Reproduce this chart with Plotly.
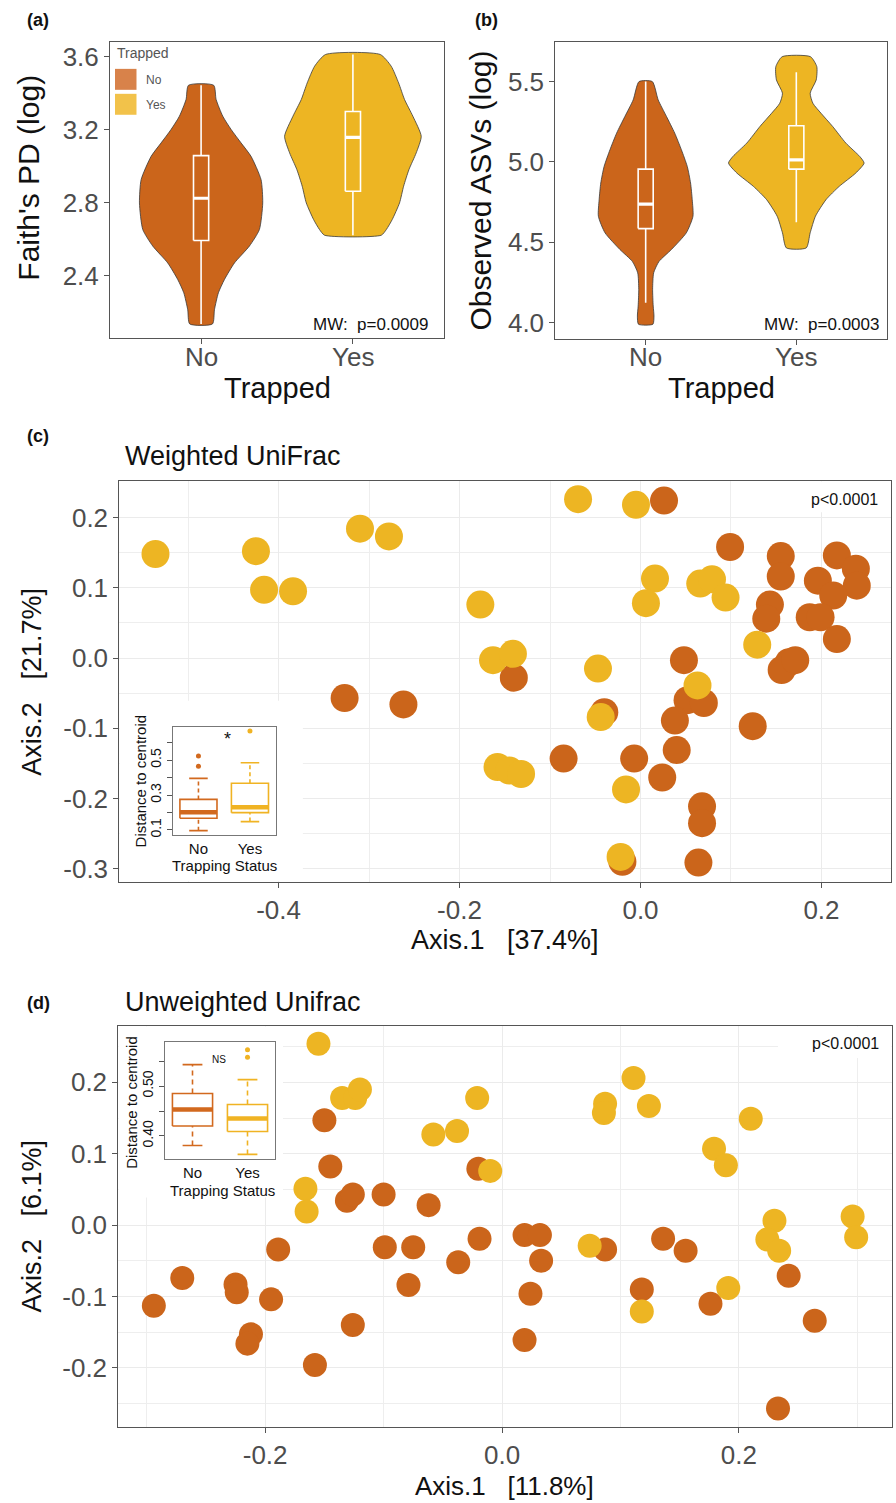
import plotly.graph_objects as go

W, H = 896, 1503
DARK = "#CB651B"
GOLD = "#EDB523"
BOX_DARK = "#D2691E"
BOX_GOLD = "#F0B323"
FONT = "Liberation Sans, Arial, sans-serif"

# ---------------- data ----------------
groups = ["No", "Yes"]

# (a) Faith's PD violin profiles (value, half-width in category units)
faith_no_y = [3.444, 3.366, 3.274, 3.201, 3.128, 3.054, 2.926, 2.798, 2.652, 2.561, 2.469, 2.378, 2.305, 2.212, 2.134]
faith_no_w = [0.083, 0.099, 0.143, 0.198, 0.263, 0.329, 0.395, 0.406, 0.384, 0.318, 0.220, 0.154, 0.114, 0.088, 0.075]
faith_yes_y = [3.613, 3.549, 3.457, 3.366, 3.274, 3.164, 3.073, 2.981, 2.890, 2.798, 2.707, 2.652, 2.621]
faith_yes_w = [0.180, 0.252, 0.301, 0.340, 0.395, 0.450, 0.417, 0.369, 0.334, 0.307, 0.259, 0.220, 0.187]
faith_stats = {  # q1, median, q3, low, high
    "No": [2.592, 2.824, 3.058, 2.134, 3.444],
    "Yes": [2.862, 3.158, 3.300, 2.621, 3.613],
}

# (b) Observed ASVs violin profiles
asv_no_y = [5.500, 5.386, 5.283, 5.179, 5.076, 4.972, 4.869, 4.765, 4.662, 4.559, 4.455, 4.380, 4.310, 4.207, 4.103, 4.041, 3.990]
asv_no_w = [0.044, 0.083, 0.138, 0.193, 0.237, 0.276, 0.298, 0.309, 0.314, 0.270, 0.171, 0.088, 0.053, 0.046, 0.050, 0.055, 0.048]
asv_yes_y = [5.655, 5.593, 5.510, 5.428, 5.365, 5.303, 5.221, 5.117, 5.034, 4.993, 4.931, 4.848, 4.765, 4.662, 4.559, 4.465]
asv_yes_w = [0.094, 0.136, 0.132, 0.092, 0.110, 0.164, 0.241, 0.329, 0.421, 0.450, 0.395, 0.285, 0.197, 0.127, 0.092, 0.066]
asv_stats = {
    "No": [4.585, 4.738, 4.955, 4.123, 5.500],
    "Yes": [4.955, 5.013, 5.225, 4.624, 5.558],
}

# (c) Weighted UniFrac PCoA
wu_yes_x = [-0.536, -0.425, -0.416, -0.384, -0.310, -0.278, -0.177, -0.163, -0.141, -0.069, -0.005, 0.016, 0.006,
            0.066, 0.079, 0.094, 0.129, -0.047, 0.063, -0.044, -0.158, -0.145, -0.132, -0.016, -0.022]
wu_yes_y = [0.148, 0.152, 0.097, 0.095, 0.184, 0.173, 0.076, -0.003, 0.006, 0.226, 0.218, 0.113, 0.078,
            0.106, 0.112, 0.086, 0.019, -0.015, -0.039, -0.084, -0.155, -0.160, -0.165, -0.187, -0.283]
wu_no_x = [-0.327, -0.262, -0.140, 0.026, 0.099, 0.155, 0.155, 0.217, 0.238, 0.239, 0.196, 0.213, 0.187, 0.199,
           0.217, 0.143, 0.139, 0.164, 0.156, 0.171, 0.048, 0.052, 0.070, 0.038, 0.124, 0.040, -0.085, -0.007,
           0.024, 0.068, 0.068, -0.020, 0.064, -0.040]
wu_no_y = [-0.057, -0.066, -0.028, 0.224, 0.158, 0.145, 0.116, 0.146, 0.127, 0.103, 0.110, 0.089, 0.058, 0.058,
           0.027, 0.076, 0.056, -0.006, -0.017, -0.003, -0.003, -0.060, -0.064, -0.089, -0.097, -0.131, -0.143,
           -0.143, -0.170, -0.211, -0.235, -0.290, -0.291, -0.077]
wu_inset = {  # q1, median, q3, low whisker, high whisker
    "No": [0.167, 0.201, 0.275, 0.096, 0.395],
    "Yes": [0.199, 0.230, 0.367, 0.148, 0.485],
}
wu_out = {"No": [0.464, 0.523], "Yes": [0.666]}

# (d) Unweighted UniFrac PCoA
uu_yes_x = [-0.155, -0.135, -0.124, -0.120, -0.021, -0.058, -0.038, -0.010, -0.166, -0.165, 0.111, 0.087, 0.086,
            0.124, 0.210, 0.179, 0.189, 0.074, 0.230, 0.224, 0.234, 0.296, 0.299, 0.118, 0.191]
uu_yes_y = [0.254, 0.178, 0.178, 0.190, 0.178, 0.127, 0.132, 0.076, 0.051, 0.019, 0.206, 0.170, 0.157,
            0.167, 0.149, 0.107, 0.084, -0.029, 0.006, -0.020, -0.036, 0.012, -0.017, -0.121, -0.088]
uu_no_x = [-0.150, -0.020, -0.145, -0.131, -0.126, -0.100, -0.062, -0.189, -0.099, -0.075, -0.019, -0.037, 0.019,
           0.032, 0.033, 0.087, 0.136, 0.155, -0.294, -0.270, -0.225, -0.224, -0.195, -0.212, -0.215, -0.126,
           -0.158, -0.079, 0.024, 0.019, 0.118, 0.176, 0.242, 0.264, 0.233]
uu_no_y = [0.147, 0.079, 0.082, 0.034, 0.043, 0.043, 0.028, -0.034, -0.031, -0.031, -0.019, -0.052, -0.014,
           -0.014, -0.050, -0.034, -0.019, -0.036, -0.113, -0.074, -0.083, -0.094, -0.104, -0.153, -0.166, -0.140,
           -0.196, -0.084, -0.096, -0.161, -0.090, -0.110, -0.071, -0.134, -0.257]
uu_inset = {
    "No": [0.420, 0.453, 0.485, 0.381, 0.543],
    "Yes": [0.409, 0.435, 0.463, 0.363, 0.513],
}
uu_out = {"No": [], "Yes": [0.558, 0.573]}

# tick labels
faith_ticks = [2.4, 2.8, 3.2, 3.6]
asv_ticks = [4.0, 4.5, 5.0, 5.5]
wu_xticks = [-0.4, -0.2, 0.0, 0.2]
wu_xminor = [-0.5, -0.3, -0.1, 0.1]
wu_yticks = [-0.3, -0.2, -0.1, 0.0, 0.1, 0.2]
wu_yminor = [-0.25, -0.15, -0.05, 0.05, 0.15, 0.25]
uu_xticks = [-0.2, 0.0, 0.2]
uu_xminor = [-0.3, -0.1, 0.1, 0.3]
uu_yticks = [-0.2, -0.1, 0.0, 0.1, 0.2]
uu_yminor = [-0.25, -0.15, -0.05, 0.05, 0.15, 0.25]
wu_inset_ticks = [0.1, 0.2, 0.3, 0.4, 0.5, 0.6]
wu_inset_text = ["0.1", "", "0.3", "", "0.5", ""]
uu_inset_ticks = [0.40, 0.45, 0.50, 0.55]
uu_inset_text = ["0.40", "", "0.50", ""]

# axis ranges
faith_range = [2.055, 3.682]
asv_range = [3.896, 5.745]
wu_xrange = [-0.576, 0.2765]
wu_yrange = [-0.318, 0.2514]
uu_xrange = [-0.324, 0.329]
uu_yrange = [-0.283, 0.2786]
cat_range = [-0.6, 1.6]


def fmt(v, d=1):
    s = f"{v:.{d}f}"
    return "0.0" if s == "-0.0" else s


# ---------------- helpers ----------------
def dx(a, b):
    return [a / W, b / W]


def dy(top, bottom):
    return [1 - bottom / H, 1 - top / H]


def PX(x):
    return x / W


def PY(y):
    return 1 - y / H


fig = go.Figure()


def add_violin(xc, ys, ws, color, xa, ya):
    xs = [xc - w for w in ws] + [xc + w for w in reversed(ws)] + [xc - ws[0]]
    yy = list(ys) + list(reversed(ys)) + [ys[0]]
    fig.add_trace(go.Scatter(x=xs, y=yy, mode="lines", fill="toself", fillcolor=color,
                             line=dict(color="#3a3a3a", width=0.8, shape="spline", smoothing=0.6),
                             xaxis=xa, yaxis=ya, showlegend=False, hoverinfo="skip"))


def add_box(xc, st, width, color, xa, ya, lw=1.6, mlw=3.0, dash="solid", cap=0.0, fill=None):
    q1, med, q3, lo, hi = st
    h = width / 2
    fig.add_trace(go.Scatter(x=[xc - h, xc + h, xc + h, xc - h, xc - h], y=[q1, q1, q3, q3, q1],
                             mode="lines", line=dict(color=color, width=lw),
                             fill="toself" if fill else None, fillcolor=fill,
                             xaxis=xa, yaxis=ya, showlegend=False, hoverinfo="skip"))
    fig.add_trace(go.Scatter(x=[xc, xc, None, xc, xc], y=[q3, hi, None, lo, q1], mode="lines",
                             line=dict(color=color, width=lw, dash=dash),
                             xaxis=xa, yaxis=ya, showlegend=False, hoverinfo="skip"))
    if cap > 0:
        c = cap / 2
        fig.add_trace(go.Scatter(x=[xc - c, xc + c, None, xc - c, xc + c], y=[hi, hi, None, lo, lo],
                                 mode="lines", line=dict(color=color, width=lw),
                                 xaxis=xa, yaxis=ya, showlegend=False, hoverinfo="skip"))
    fig.add_trace(go.Scatter(x=[xc - h, xc + h], y=[med, med], mode="lines",
                             line=dict(color=color, width=mlw),
                             xaxis=xa, yaxis=ya, showlegend=False, hoverinfo="skip"))


# ---------------- panel a ----------------
add_violin(0, faith_no_y, faith_no_w, DARK, "x", "y")
add_violin(1, faith_yes_y, faith_yes_w, GOLD, "x", "y")
for i, g in enumerate(groups):
    add_box(i, faith_stats[g], 0.10, "white", "x", "y", lw=1.6, mlw=3.2)

# ---------------- panel b ----------------
add_violin(0, asv_no_y, asv_no_w, DARK, "x2", "y2")
add_violin(1, asv_yes_y, asv_yes_w, GOLD, "x2", "y2")
for i, g in enumerate(groups):
    add_box(i, asv_stats[g], 0.10, "white", "x2", "y2", lw=1.6, mlw=3.2)

# ---------------- panel c ----------------
fig.add_trace(go.Scatter(x=wu_no_x, y=wu_no_y, mode="markers", marker=dict(size=28, color=DARK),
                         xaxis="x3", yaxis="y3", showlegend=False))
fig.add_trace(go.Scatter(x=wu_yes_x, y=wu_yes_y, mode="markers", marker=dict(size=28, color=GOLD),
                         xaxis="x3", yaxis="y3", showlegend=False))
for i, (g, col) in enumerate(zip(groups, [BOX_DARK, BOX_GOLD])):
    add_box(i + 1, wu_inset[g], 0.72, col, "x4", "y4", lw=1.6, mlw=4.5, dash="4px,3px", cap=0.36, fill="white")
    if wu_out[g]:
        fig.add_trace(go.Scatter(x=[i + 1] * len(wu_out[g]), y=wu_out[g], mode="markers",
                                 marker=dict(size=5, color=col), xaxis="x4", yaxis="y4", showlegend=False))

# ---------------- panel d ----------------
fig.add_trace(go.Scatter(x=uu_no_x, y=uu_no_y, mode="markers", marker=dict(size=24, color=DARK),
                         xaxis="x5", yaxis="y5", showlegend=False))
fig.add_trace(go.Scatter(x=uu_yes_x, y=uu_yes_y, mode="markers", marker=dict(size=24, color=GOLD),
                         xaxis="x5", yaxis="y5", showlegend=False))
for i, (g, col) in enumerate(zip(groups, [BOX_DARK, BOX_GOLD])):
    add_box(i + 1, uu_inset[g], 0.73, col, "x6", "y6", lw=1.6, mlw=4.5, dash="5px,4px", cap=0.36, fill="white")
    if uu_out[g]:
        fig.add_trace(go.Scatter(x=[i + 1] * len(uu_out[g]), y=uu_out[g], mode="markers",
                                 marker=dict(size=5, color=col), xaxis="x6", yaxis="y6", showlegend=False))

# ---------------- axes ----------------
frame = dict(showline=True, mirror=True, linecolor="#555555", linewidth=1, zeroline=False,
             ticks="outside", ticklen=5, tickcolor="#555555", fixedrange=True)
tick_big = dict(family=FONT, size=26, color="#4D4D4D")
grid = dict(showgrid=True, gridcolor="#EBEBEB", gridwidth=1.2)


def minor(vals):
    return dict(tickmode="array", tickvals=vals, showgrid=True, gridcolor="#EEEEEE", gridwidth=0.8, ticks="")


inset_frame = dict(showline=True, mirror=True, linecolor="#777777", linewidth=1, zeroline=False,
                   showgrid=False, fixedrange=True)

layout_axes = dict(
    xaxis=dict(domain=dx(110, 444), range=cat_range, tickvals=[0, 1], showticklabels=False,
               showgrid=False, anchor="y", **frame),
    yaxis=dict(domain=dy(42, 339), range=faith_range, tickvals=faith_ticks,
               ticktext=[fmt(v) for v in faith_ticks], showgrid=False, tickfont=tick_big, anchor="x", **frame),
    xaxis2=dict(domain=dx(555.3, 886.7), range=cat_range, tickvals=[0, 1], showticklabels=False,
                showgrid=False, anchor="y2", **frame),
    yaxis2=dict(domain=dy(42.3, 340), range=asv_range, tickvals=asv_ticks,
                ticktext=[fmt(v) for v in asv_ticks], showgrid=False, tickfont=tick_big, anchor="x2", **frame),
    xaxis3=dict(domain=dx(119.3, 890.7), range=wu_xrange, tickvals=wu_xticks,
                ticktext=[fmt(v) for v in wu_xticks], minor=minor(wu_xminor),
                tickfont=tick_big, anchor="y3", **grid, **frame),
    yaxis3=dict(domain=dy(482.3, 883.3), range=wu_yrange, tickvals=wu_yticks,
                ticktext=[fmt(v) for v in wu_yticks], minor=minor(wu_yminor),
                tickfont=tick_big, anchor="x3", **grid, **frame),
    xaxis4=dict(domain=dx(172.7, 275.7), range=[0.5, 2.5], tickvals=[1, 2], ticktext=groups, ticks="",
                tickfont=dict(family=FONT, size=15, color="#111"), anchor="y4", **inset_frame),
    yaxis4=dict(domain=dy(728.3, 836.7), range=[0.071, 0.690], tickvals=wu_inset_ticks, ticktext=wu_inset_text,
                tickangle=-90, ticks="outside", ticklen=5, tickcolor="#555",
                tickfont=dict(family=FONT, size=14, color="#111"), anchor="x4", **inset_frame),
    xaxis5=dict(domain=dx(118.3, 891.7), range=uu_xrange, tickvals=uu_xticks,
                ticktext=[fmt(v) for v in uu_xticks], minor=minor(uu_xminor),
                tickfont=tick_big, anchor="y5", **grid, **frame),
    yaxis5=dict(domain=dy(1028.3, 1430), range=uu_yrange, tickvals=uu_yticks,
                ticktext=[fmt(v) for v in uu_yticks], minor=minor(uu_yminor),
                tickfont=tick_big, anchor="x5", **grid, **frame),
    xaxis6=dict(domain=dx(165, 275), range=[0.5, 2.5], tickvals=[1, 2], ticktext=groups, ticks="",
                tickfont=dict(family=FONT, size=15, color="#111"), anchor="y6", **inset_frame),
    yaxis6=dict(domain=dy(1044.3, 1161.7), range=[0.353, 0.588], tickvals=uu_inset_ticks, ticktext=uu_inset_text,
                tickangle=-90, ticks="outside", ticklen=5, tickcolor="#555",
                tickfont=dict(family=FONT, size=14, color="#111"), anchor="x6", **inset_frame),
)

# ---------------- annotations ----------------
ann = []


def text(x, y, s, size, color="#111", angle=0, xanchor="center", bold=False, xref="paper"):
    ann.append(dict(x=PX(x) if xref == "paper" else x, y=PY(y), xref=xref, yref="paper",
                    text=f"<b>{s}</b>" if bold else s,
                    showarrow=False, textangle=angle, xanchor=xanchor, yanchor="middle",
                    font=dict(family=FONT, size=size, color=color)))


NB = "\u00a0"
text(25, 20, "(a)", 18, xanchor="left", bold=True)
text(473, 20, "(b)", 18, xanchor="left", bold=True)
text(25, 437, "(c)", 18, xanchor="left", bold=True)
text(25, 1005, "(d)", 18, xanchor="left", bold=True)

# category labels for panels a and b
for i, g in enumerate(groups):
    text(i, 358, g, 26, color="#4D4D4D", xref="x")
    text(i, 358, g, 26, color="#4D4D4D", xref="x2")

text(29, 178, "Faith's PD (log)", 30, angle=-90)
text(277, 389, "Trapped", 29)
text(481, 191, "Observed ASVs (log)", 30, angle=-90)
text(721, 389, "Trapped", 29)
text(430, 325, "MW:" + NB + NB + "p=0.0009", 17, xanchor="right")
text(881, 325, "MW:" + NB + NB + "p=0.0003", 17, xanchor="right")

# legend in panel a
text(115, 53, "Trapped", 14, color="#555555", xanchor="left")
text(144, 80, "No", 12, color="#555555", xanchor="left")
text(144, 105, "Yes", 12, color="#555555", xanchor="left")

text(123, 457, "Weighted UniFrac", 27, xanchor="left")
text(880, 500, "p&lt;0.0001", 16, xanchor="right")
text(32, 683, "Axis.2" + NB * 3 + "[21.7%]", 27, angle=-90)
text(505, 942, "Axis.1" + NB * 3 + "[37.4%]", 27)
text(140, 783, "Distance to centroid", 15, angle=-90)
text(224, 867, "Trapping Status", 15)
text(227, 740, "*", 18)

text(123, 1004, "Unweighted Unifrac", 27, xanchor="left")
text(881, 1046, "p&lt;0.0001", 16, xanchor="right")
text(32, 1229, "Axis.2" + NB * 3 + "[6.1%]", 27, angle=-90)
text(504, 1489, "Axis.1" + NB * 3 + "[11.8%]", 26)
text(132, 1105, "Distance to centroid", 15, angle=-90)
text(222, 1193, "Trapping Status", 15)
text(219, 1062, "NS", 10)


# ---------------- shapes ----------------
def frac(r, f):
    return r[0] + (r[1] - r[0]) * f


shapes = [
    # legend keys
    dict(type="rect", xref="paper", yref="paper", x0=PX(115), x1=PX(136.5), y0=PY(90), y1=PY(69),
         fillcolor="#D8824A", line=dict(width=0)),
    dict(type="rect", xref="paper", yref="paper", x0=PX(115), x1=PX(136.5), y0=PY(115), y1=PY(94),
         fillcolor="#F2C24A", line=dict(width=0)),
    # white patches behind insets and p-values (hide gridlines only)
    dict(type="rect", xref="x3", yref="y3", x0=wu_xrange[0], x1=frac(wu_xrange, 0.238),
         y0=wu_yrange[0], y1=frac(wu_yrange, 0.452), layer="between", fillcolor="white", line=dict(width=0)),
    dict(type="rect", xref="x3", yref="y3", x0=frac(wu_xrange, 0.906), x1=wu_xrange[1],
         y0=frac(wu_yrange, 0.923), y1=wu_yrange[1], layer="between", fillcolor="white", line=dict(width=0)),
    dict(type="rect", xref="x5", yref="y5", x0=uu_xrange[0], x1=frac(uu_xrange, 0.213),
         y0=frac(uu_yrange, 0.5726), y1=uu_yrange[1], layer="between", fillcolor="white", line=dict(width=0)),
    dict(type="rect", xref="x5", yref="y5", x0=frac(uu_xrange, 0.853), x1=uu_xrange[1],
         y0=frac(uu_yrange, 0.921), y1=uu_yrange[1], layer="between", fillcolor="white", line=dict(width=0)),
]

fig.update_layout(width=W, height=H, margin=dict(l=0, r=0, t=0, b=0), paper_bgcolor="white",
                  plot_bgcolor="white", showlegend=False, annotations=ann, shapes=shapes,
                  font=dict(family=FONT), **layout_axes)

fig.write_html("out.html", config={"displayModeBar": False},
               post_script="document.body.style.margin='0px';document.body.style.overflow='hidden';")
